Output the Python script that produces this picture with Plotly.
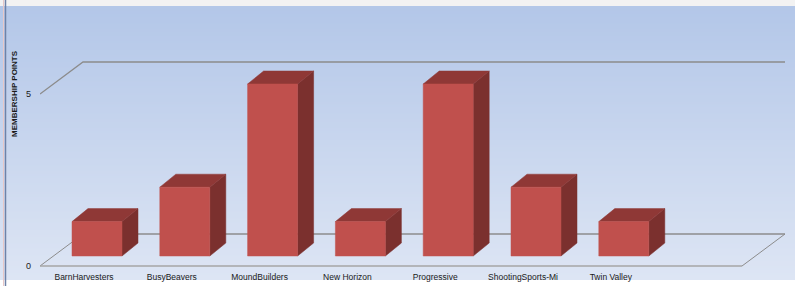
import plotly.graph_objects as go

# ---- data ----
categories = ["BarnHarvesters", "BusyBeavers", "MoundBuilders", "New Horizon",
              "Progressive", "ShootingSports-Mi", "Twin Valley"]
values = [1, 2, 5, 1, 5, 2, 1]
y_ticks = [0, 5]
y_title = "MEMBERSHIP POINTS"

# ---- geometry (in axis units) ----
W, H = 795, 286
L_M, R_M, T_M, B_M = 40, 0, 6, 16
PX_X = 87.8          # px per category
PX_Y = 34.4          # px per value unit
x0_px = 84           # pixel of category 0 label
xr = [(L_M - x0_px) / PX_X, (W - R_M - x0_px) / PX_X]
plot_h = H - T_M - B_M
plot_w = W - L_M - R_M
y_zero_px = 266
yr = [-(T_M + plot_h - y_zero_px) / PX_Y, (y_zero_px - T_M) / PX_Y]

floor_dx, floor_dy = 43 / PX_X, 32 / PX_Y
bar_off_x, bar_off_y = -12 / PX_X, 10 / PX_Y
bar_w = 50 / PX_X
bar_dx, bar_dy = 16 / PX_X, 13 / PX_Y
floor_x0, floor_x1 = xr[0], (742 - x0_px) / PX_X

fig = go.Figure()

# background gradient
shapes = []
top_c = (178, 198, 232)
bot_c = (221, 229, 244)
N = 140
for i in range(N):
    t = i / (N - 1)
    c = tuple(round(top_c[k] + (bot_c[k] - top_c[k]) * t) for k in range(3))
    shapes.append(dict(type="rect", xref="paper", yref="paper",
                       x0=-L_M / plot_w, x1=1.0,
                       y0=1 + T_M / plot_h - (i + 1) / N * (H - T_M) / plot_h,
                       y1=1 + T_M / plot_h - i / N * (H - T_M) / plot_h + 0.002,
                       fillcolor="rgb(%d,%d,%d)" % c, line=dict(width=0), layer="below"))
# gray top strip
shapes.append(dict(type="rect", xref="paper", yref="paper", x0=-L_M / plot_w, x1=1,
                   y0=1, y1=1 + T_M / plot_h, fillcolor="#f2f2f2", line=dict(width=0), layer="below"))
# left border lines
for xp, col, wd in [(3.5, "#e8c8c8", 1), (5.5, "#6f82a8", 1.5)]:
    shapes.append(dict(type="line", xref="paper", yref="paper",
                       x0=(xp - L_M) / plot_w, x1=(xp - L_M) / plot_w,
                       y0=-B_M / plot_h, y1=1 + T_M / plot_h,
                       line=dict(color=col, width=wd), layer="below"))
fig.update_layout(shapes=shapes)

def line(xs, ys, color, width):
    fig.add_trace(go.Scatter(x=xs, y=ys, mode="lines", line=dict(color=color, width=width),
                             hoverinfo="skip", showlegend=False))

# floor
line([floor_x0 + floor_dx, floor_x1 + floor_dx], [floor_dy, floor_dy], "#8c8c8c", 1.3)
line([floor_x0, floor_x0 + floor_dx], [0, floor_dy], "#8c8c8c", 1)
line([floor_x1, floor_x1 + floor_dx], [0, floor_dy], "#8c8c8c", 1)
# gridline at 5
for v in y_ticks[1:]:
    line([floor_x0, floor_x0 + floor_dx, floor_x1 + floor_dx],
         [v, v + floor_dy, v + floor_dy], "#8c8c8c", 1.3)

# bars
def poly(xs, ys, color):
    fig.add_trace(go.Scatter(x=xs + [xs[0]], y=ys + [ys[0]], mode="lines", fill="toself",
                             fillcolor=color, line=dict(color=color, width=0.5),
                             hoverinfo="skip", showlegend=False))

for i, v in enumerate(values):
    xa = i + bar_off_x
    xb = xa + bar_w
    yb = bar_off_y
    yt = bar_off_y + v
    poly([xb, xb + bar_dx, xb + bar_dx, xb], [yb, yb + bar_dy, yt + bar_dy, yt], "#7b302e")
    poly([xa, xb, xb + bar_dx, xa + bar_dx], [yt, yt, yt + bar_dy, yt + bar_dy], "#8f3836")
    poly([xa, xb, xb, xa], [yb, yb, yt, yt], "#c0504d")

# floor front edge (on top)
line([floor_x0, floor_x1], [0, 0], "#a6a6a6", 1.3)

fig.add_annotation(x=(14 - L_M) / plot_w, xref="paper", xanchor="center", yref="y", y=5.0,
                   text="<b>" + y_title + "</b>", textangle=-90, showarrow=False,
                   font=dict(size=8, color="#1a1a1a"))

fig.update_layout(
    width=W, height=H,
    margin=dict(l=L_M, r=R_M, t=T_M, b=B_M, pad=0),
    paper_bgcolor="white", plot_bgcolor="rgba(0,0,0,0)",
    font=dict(family="Liberation Sans, Arial, sans-serif", size=9, color="#1a1a1a"),
    xaxis=dict(range=xr, tickvals=list(range(len(categories))), ticktext=categories,
               showgrid=False, zeroline=False, showline=False, ticks="",
               tickfont=dict(size=8.5), fixedrange=True),
    yaxis=dict(range=yr, tickvals=y_ticks, showgrid=False, zeroline=False, showline=False,
               ticks="", ticklabelstandoff=8, tickfont=dict(size=9), fixedrange=True),
)
fig.write_html("out.html", post_script="document.body.style.margin='0';document.body.style.overflow='hidden';",
               config={"displayModeBar": False})
